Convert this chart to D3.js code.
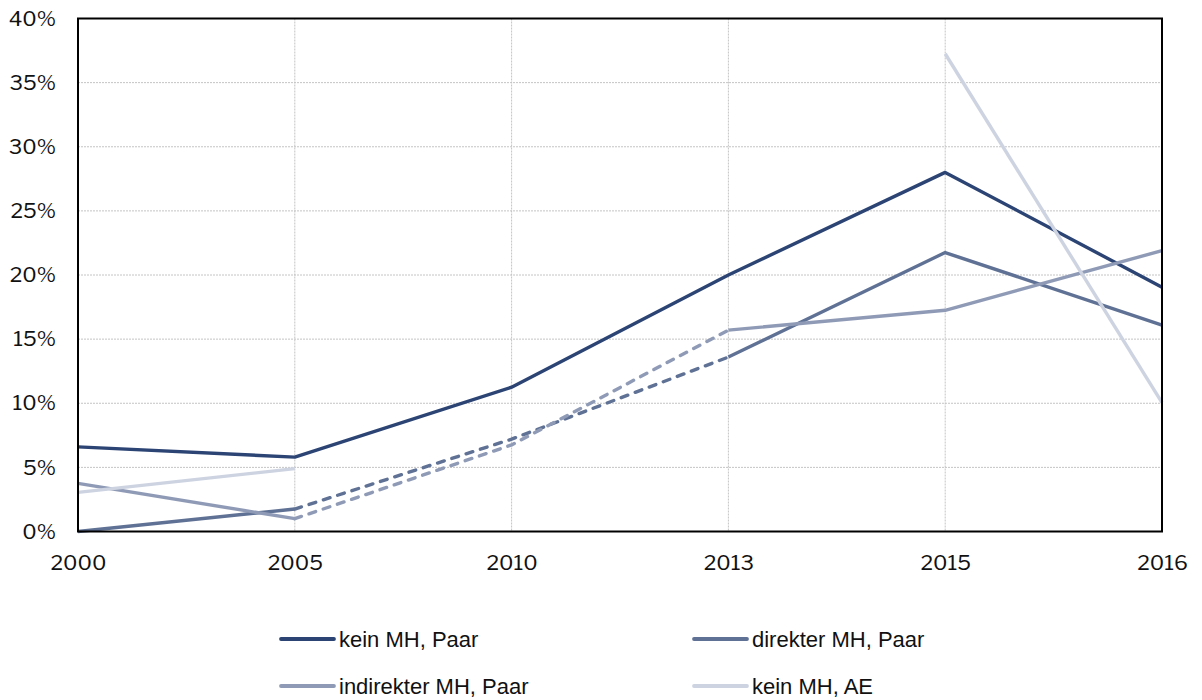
<!DOCTYPE html>
<html>
<head>
<meta charset="utf-8">
<script src="https://cdn.jsdelivr.net/npm/d3@7"></script>
<style>
  html, body { margin: 0; padding: 0; background: #fff; }
  svg { display: block; }
</style>
</head>
<body>
<svg id="chart" width="1202" height="700"></svg>
<script>
// Jahre (Kategorien der x-Achse)
const years = ["2000", "2005", "2010", "2013", "2015", "2016"];

// Anteile in Prozent; null = kein Wert
const keinMHPaar       = [6.6, 5.8, 11.25, 20.0, 28.0, 19.05];
const direkterMHPaar   = [0.0, 1.75, 7.2, 13.6, 21.75, 16.1];
const indirekterMHPaar = [3.75, 1.0, 6.75, 15.7, 17.25, 21.9];
const keinMHAE         = [3.05, 4.9, null, null, 37.25, 10.05];

// Abschnitte (Indexbereiche), die gestrichelt gezeichnet werden
const dashedDirekter   = [[1, 3]];
const dashedIndirekter = [[1, 3]];

const yTicks = [0, 5, 10, 15, 20, 25, 30, 35, 40];

const series = [
  { name: "kein MH, Paar",       values: keinMHPaar,       color: "#2b4474", dashed: [] },
  { name: "direkter MH, Paar",   values: direkterMHPaar,   color: "#5f7194", dashed: dashedDirekter },
  { name: "indirekter MH, Paar", values: indirekterMHPaar, color: "#8f9bb6", dashed: dashedIndirekter },
  { name: "kein MH, AE",         values: keinMHAE,         color: "#cdd3e0", dashed: [] }
];

const svg = d3.select("#chart");
const plotLeft = 78, plotRight = 1162, plotTop = 18.5, plotBottom = 531.5;

const x = d3.scalePoint().domain(years).range([plotLeft, plotRight]);
const y = d3.scaleLinear().domain([0, 40]).range([plotBottom, plotTop]);

const axisFont = "'Libre Franklin', 'Noto Sans', 'DejaVu Sans', sans-serif";

// Gitterlinien
const grid = svg.append("g");
grid.selectAll("line.h").data(yTicks.slice(1, -1)).join("line")
  .attr("class", "h")
  .attr("x1", plotLeft).attr("x2", plotRight)
  .attr("y1", d => y(d)).attr("y2", d => y(d))
  .attr("stroke", "#c4c4c4").attr("stroke-width", 1)
  .attr("stroke-dasharray", "2,1");
grid.selectAll("line.v").data(years.slice(1, -1)).join("line")
  .attr("class", "v")
  .attr("x1", d => x(d)).attr("x2", d => x(d))
  .attr("y1", plotTop).attr("y2", plotBottom)
  .attr("stroke", "#c4c4c4").attr("stroke-width", 1)
  .attr("stroke-dasharray", "2,1");

// Linien
const lineGen = d3.line().x(d => x(d.year)).y(d => y(d.value));
const linesG = svg.append("g");
series.forEach(s => {
  const segs = [];
  for (let i = 0; i < s.values.length - 1; i++) {
    const a = s.values[i], b = s.values[i + 1];
    if (a == null || b == null) continue;
    const isDashed = s.dashed.some(([lo, hi]) => i >= lo && i + 1 <= hi);
    const last = segs[segs.length - 1];
    const pA = { year: years[i], value: a }, pB = { year: years[i + 1], value: b };
    if (last && last.dashed === isDashed && last.end === i) {
      last.pts.push(pB); last.end = i + 1;
    } else {
      segs.push({ dashed: isDashed, pts: [pA, pB], end: i + 1 });
    }
  }
  segs.forEach(seg => {
    linesG.append("path")
      .attr("d", lineGen(seg.pts))
      .attr("fill", "none")
      .attr("stroke", s.color)
      .attr("stroke-width", 3.4)
      .attr("stroke-linejoin", "round")
      .attr("stroke-linecap", seg.dashed ? "round" : "butt")
      .attr("stroke-dasharray", seg.dashed ? "7,8" : null);
  });
});

// Rahmen des Diagrammbereichs
svg.append("rect")
  .attr("x", plotLeft).attr("y", plotTop)
  .attr("width", plotRight - plotLeft).attr("height", plotBottom - plotTop)
  .attr("fill", "none").attr("stroke", "#000").attr("stroke-width", 2);

// y-Achse
const yAxis = svg.append("g")
  .attr("transform", `translate(${plotLeft},0)`)
  .call(d3.axisLeft(y).tickValues(yTicks).tickFormat(d => d + "%").tickSize(0).tickPadding(22));
yAxis.select(".domain").remove();
yAxis.selectAll("text")
  .attr("font-family", axisFont).attr("font-size", 21).attr("fill", "#111");

// x-Achse
const xAxis = svg.append("g")
  .attr("transform", `translate(0,${plotBottom})`)
  .call(d3.axisBottom(x).tickSize(0).tickPadding(24));
xAxis.select(".domain").remove();
xAxis.selectAll("text")
  .attr("font-family", axisFont).attr("font-size", 21).attr("fill", "#111");

// Legende
const legendPos = [
  { lx: 281, ly: 639 }, { lx: 694, ly: 639 },
  { lx: 281, ly: 686 }, { lx: 694, ly: 686 }
];
const legend = svg.append("g");
series.forEach((s, i) => {
  const p = legendPos[i];
  legend.append("line")
    .attr("x1", p.lx).attr("x2", p.lx + 53)
    .attr("y1", p.ly).attr("y2", p.ly)
    .attr("stroke", s.color).attr("stroke-width", 3.8)
    .attr("stroke-linecap", "round");
  legend.append("text")
    .attr("x", p.lx + 58).attr("y", p.ly)
    .attr("dy", "0.35em")
    .attr("font-family", "'Liberation Sans', Arial, sans-serif")
    .attr("font-size", 22).attr("fill", "#111")
    .text(s.name);
});
</script>
</body>
</html>
